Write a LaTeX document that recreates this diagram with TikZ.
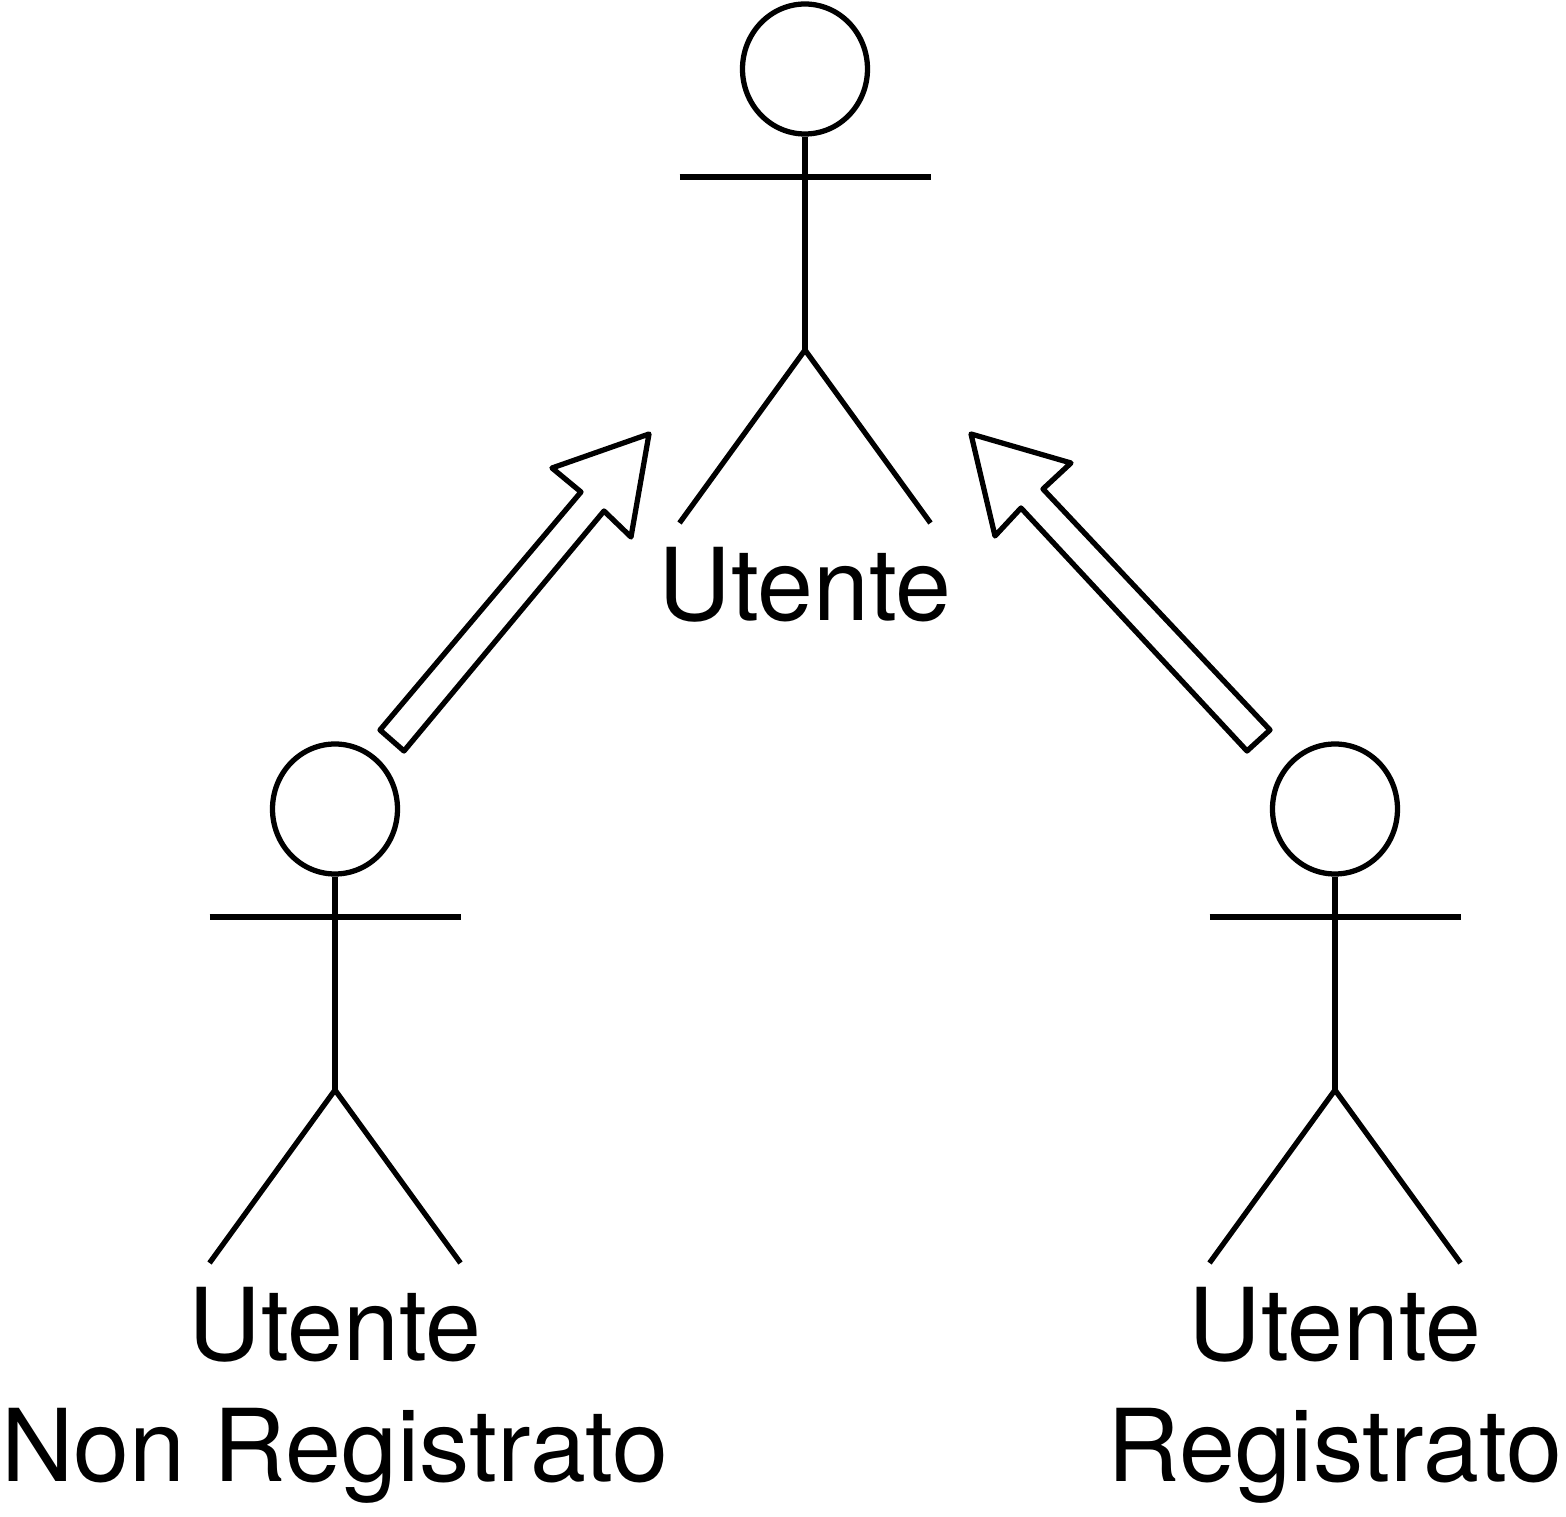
\documentclass[tikz,border=0pt]{standalone}
\usepackage{fontspec}
\setmainfont{TeX Gyre Heros}
\usetikzlibrary{shapes.geometric}
\tikzset{
  line/.style={line width=1.5pt},
  block/.style={line width=1.5pt,line join=round},
  label/.style={font=\fontsize{28.6}{34.4}\selectfont,align=center,anchor=north,inner sep=0pt},
  pics/actor/.style={code={
    \node [line,draw,ellipse,minimum width=1.25cm,minimum height=1.3cm,inner sep=0pt] (-head) at (0,2.81) {};
    \coordinate (-hip) at (0,0);
    \draw [line] (-head.south) -- (-hip);
    \draw [line] (-1.255,1.73) -- (1.255,1.73);
    \draw [line] (-1.255,-1.73) -- (-hip) -- (1.255,-1.73);
    \node [label] (-name) at (0,-1.967) {#1};
  }}
}
\begin{document}
\begin{tikzpicture}
  \useasboundingbox (0,0) rectangle (15.66,15.17);
  \pic (top) at (8.05,11.67) {actor={Utente}};
  \pic (left) at (3.35,4.27) {actor={Utente\\Non Registrato}};
  \pic (right) at (13.35,4.27) {actor={Utente\\Registrato}};
  % generalisation arrows
  \draw [block] (3.80,7.87) -- (4.04,7.66) -- (6.04,10.06) -- (6.31,9.80) -- (6.49,10.83)
    -- (5.52,10.49) -- (5.81,10.25) -- cycle;
  \draw [block] (12.70,7.87) -- (12.47,7.66) -- (10.21,10.09) -- (9.95,9.81) -- (9.71,10.83)
    -- (10.71,10.54) -- (10.43,10.28) -- cycle;
\end{tikzpicture}
\end{document}
